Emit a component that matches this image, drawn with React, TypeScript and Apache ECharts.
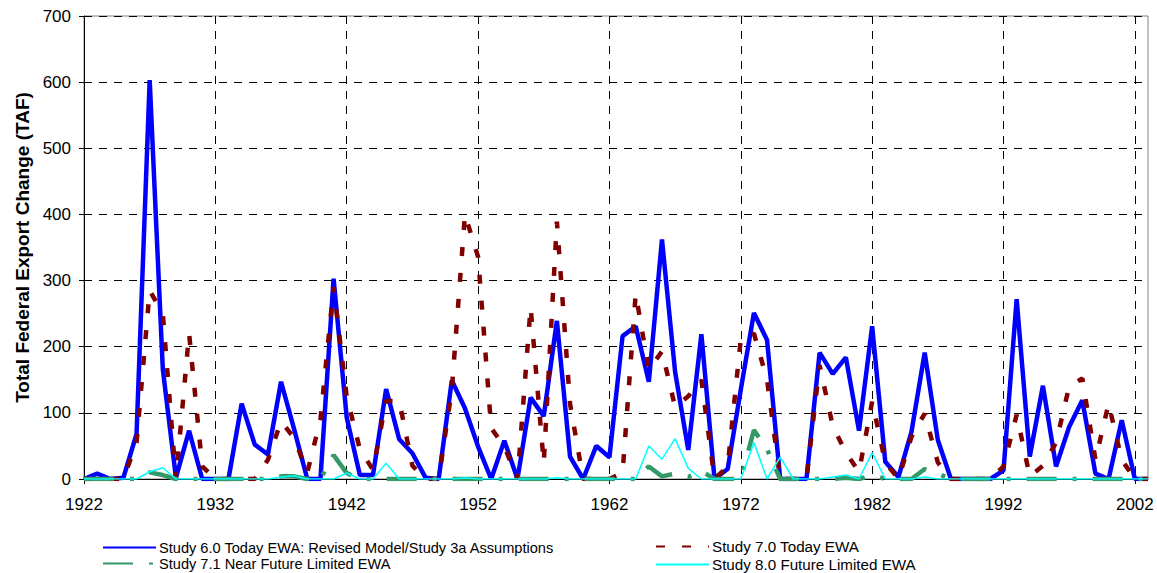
import React, { useEffect, useRef } from "react";
import * as echarts from "echarts";

const years: string[] = [];
for (let y = 1922; y <= 2003; y++) years.push(String(y));

const nameS60 = "Study 6.0 Today EWA: Revised Model/Study 3a Assumptions";
const nameS70 = "Study 7.0 Today EWA";
const nameS71 = "Study 7.1 Near Future Limited EWA";
const nameS80 = "Study 8.0 Future Limited EWA";

// 1922 .. 2003
const study60 = [
  0, 8, 0, 2, 68, 603, 166, 2, 73, 0,
  0, 0, 114, 52, 37, 147, 75, 0, 0, 303,
  93, 6, 6, 136, 60, 39, 2, 0, 149, 107,
  49, 0, 58, 0, 123, 95, 239, 34, 0, 50,
  33, 216, 231, 147, 362, 162, 44, 219, 0, 15,
  135, 251, 210, 0, 0, 0, 191, 159, 184, 73,
  231, 26, 3, 72, 191, 59, 0, 0, 0, 0,
  13, 272, 34, 141, 19, 79, 119, 8, 0, 89,
  0, 0,
];

const study70 = [
  0, 0, 0, 0, 55, 285, 250, 0, 220, 19,
  0, 0, 0, 0, 29, 87, 62, 10, 90, 290,
  125, 45, 14, 118, 118, 20, 0, 0, 135, 400,
  336, 77, 49, 0, 260, 24, 389, 114, 0, 0,
  0, 9, 280, 165, 193, 109, 125, 150, 0, 19,
  212, 220, 150, 0, 0, 0, 172, 80, 40, 11,
  117, 25, 0, 64, 99, 25, 0, 0, 0, 0,
  19, 97, 4, 20, 55, 140, 152, 29, 114, 29,
  0, 0,
];

const study71 = [
  0, 0, 0, 0, 0, 10, 6, 0, 0, 0,
  0, 0, 0, 0, 0, 4, 4, 0, 0, 36,
  9, 0, 0, 0, 0, 0, 0, 0, 0, 0,
  0, 0, 0, 0, 0, 0, 0, 0, 0, 0,
  0, 0, 0, 19, 4, 8, 3, 12, 0, 0,
  0, 74, 45, 0, 0, 0, 0, 0, 2, 0,
  6, 0, 0, 0, 15, 8, 0, 0, 0, 0,
  0, 0, 0, 0, 0, 0, 0, 0, 0, 0,
  0, 0,
];

const study80 = [
  0, 0, 0, 0, 0, 11, 17, 0, 0, 0,
  0, 0, 0, 0, 0, 3, 5, 0, 0, 0,
  9, 0, 0, 24, 0, 0, 0, 0, 0, 2,
  0, 0, 0, 0, 0, 0, 2, 0, 0, 0,
  0, 0, 0, 50, 30, 61, 16, 0, 0, 0,
  0, 55, 0, 33, 0, 0, 0, 3, 6, 0,
  40, 0, 0, 0, 3, 0, 0, 0, 0, 0,
  0, 0, 0, 0, 0, 0, 0, 0, 0, 0,
  0, 0,
];

const FONT = "'Liberation Sans', Arial, sans-serif";

function legendAt(name: string, left: number, top: number, fontSize: number) {
  return {
    data: [name],
    left,
    top,
    orient: "horizontal",
    padding: 0,
    itemGap: 0,
    itemWidth: 53,
    itemHeight: 14,
    selectedMode: false,
    itemStyle: { opacity: 0 },
    textStyle: { fontFamily: FONT, fontSize, color: "#000", padding: [0, 0, 0, -2] },
  };
}

export default function App() {
  const ref = useRef<HTMLDivElement>(null);
  useEffect(() => {
    if (!ref.current) return;
    const chart = echarts.init(ref.current, undefined, { renderer: "svg" });
    chart.setOption({
      animation: false,
      backgroundColor: "#fff",
      textStyle: { fontFamily: FONT },
      grid: {
        left: 84,
        right: 9,
        top: 16,
        bottom: 94,
        show: true,
        borderColor: "#808080",
        borderWidth: 1,
        backgroundColor: "transparent",
      },
      legend: [
        legendAt(nameS60, 102, 540, 14.6),
        legendAt(nameS71, 102, 556, 14.6),
        legendAt(nameS70, 655, 539, 15.2),
        legendAt(nameS80, 655, 557, 15.2),
      ],
      xAxis: {
        type: "category",
        data: years,
        boundaryGap: false,
        axisLine: { show: true, lineStyle: { color: "#000", width: 1 } },
        axisTick: { show: true, interval: 9, length: 5, lineStyle: { color: "#000" } },
        axisLabel: { interval: 9, fontSize: 17, color: "#000", margin: 17, fontFamily: FONT },
        splitLine: { show: true, interval: 9, lineStyle: { color: "#000", type: [8, 7], width: 1 } },
      },
      yAxis: {
        type: "value",
        min: 0,
        max: 700,
        interval: 100,
        name: "Total Federal Export Change (TAF)",
        nameLocation: "middle",
        nameGap: 52,
        nameTextStyle: { fontFamily: FONT, fontSize: 19, fontWeight: "bold", color: "#000" },
        axisLine: { show: true, lineStyle: { color: "#000", width: 1 } },
        axisTick: { show: true, length: 5, lineStyle: { color: "#000" } },
        axisLabel: { fontSize: 17, color: "#000", margin: 13, fontFamily: FONT },
        splitLine: { show: true, lineStyle: { color: "#000", type: [8, 7], width: 1 } },
      },
      series: [
        {
          name: nameS60,
          type: "line",
          data: study60,
          symbol: "none",
          lineStyle: { color: "#0000FF", width: 4.5 },
          itemStyle: { color: "#0000FF" },
        },
        {
          name: nameS70,
          type: "line",
          data: study70,
          symbol: "none",
          lineStyle: { color: "#800000", width: 4.5, type: [9, 17] },
          itemStyle: { color: "#800000" },
        },
        {
          name: nameS71,
          type: "line",
          data: study71,
          symbol: "none",
          lineStyle: { color: "#339966", width: 4.5, type: [30, 16, 4, 16] },
          itemStyle: { color: "#339966" },
        },
        {
          name: nameS80,
          type: "line",
          data: study80,
          symbol: "none",
          lineStyle: { color: "#00FFFF", width: 1.5 },
          itemStyle: { color: "#00FFFF" },
        },
      ],
    });
    return () => chart.dispose();
  }, []);
  return (
    <div
      ref={ref}
      style={{ position: "absolute", left: 0, top: 0, width: 1157, height: 573 }}
    />
  );
}
